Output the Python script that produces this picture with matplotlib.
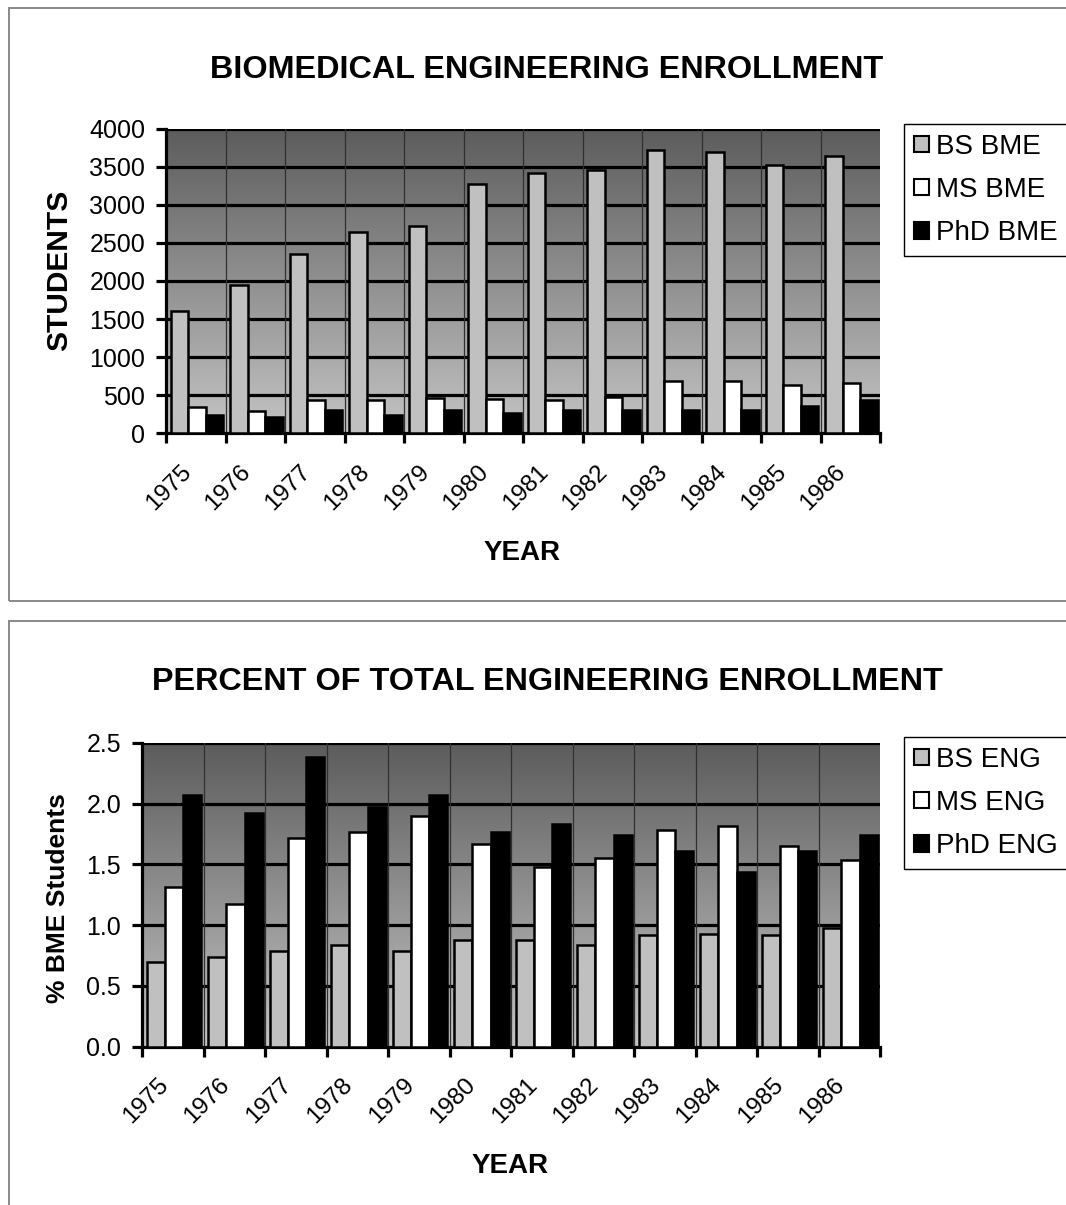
import numpy as np
import matplotlib
matplotlib.use("Agg")
import matplotlib.pyplot as plt
import matplotlib.transforms as mtransforms
from matplotlib.colors import LinearSegmentedColormap
from matplotlib.patches import Rectangle, Patch

plt.rcParams['font.family'] = ['Liberation Sans', 'DejaVu Sans']

years = ['1975', '1976', '1977', '1978', '1979', '1980',
         '1981', '1982', '1983', '1984', '1985', '1986']

# enrollment (students)
bs_bme = [1600, 1950, 2350, 2650, 2730, 3270, 3420, 3460, 3730, 3700, 3530, 3640]
ms_bme = [340, 285, 440, 430, 460, 450, 430, 475, 680, 680, 630, 660]
phd_bme = [240, 210, 300, 240, 300, 265, 300, 300, 300, 300, 360, 430]

# percent of total engineering enrollment
bs_eng = [0.70, 0.74, 0.79, 0.84, 0.79, 0.88, 0.88, 0.84, 0.915, 0.93, 0.915, 0.975]
ms_eng = [1.31, 1.17, 1.72, 1.77, 1.90, 1.67, 1.48, 1.55, 1.78, 1.82, 1.65, 1.54]
phd_eng = [2.075, 1.92, 2.385, 1.97, 2.075, 1.77, 1.835, 1.74, 1.61, 1.44, 1.61, 1.74]

W, H = 1066, 1205
fig = plt.figure(figsize=(W/100, H/100), dpi=100)

def px_axes(x0, y0, x1, y1):
    return fig.add_axes([x0/W, 1-y1/H, (x1-x0)/W, (y1-y0)/H])

# panel frames
for (y0, y1) in [(7.5, 600.5), (620.5, 1215)]:
    fig.patches.append(Rectangle((9/W, 1-y1/H), (1080-9)/W, (y1-y0)/H,
                                 transform=fig.transFigure, fill=False,
                                 edgecolor='#808080', lw=1.3))

cmap = LinearSegmentedColormap.from_list('bg', ['#5c5c5c', '#c4c4c4'])
fills = ['#c0c0c0', 'white', 'black']
shift = mtransforms.ScaledTranslation(-12/100, 0, fig.dpi_scale_trans)

def draw(ax, series, ymax, ystep, yfmt, ylabel, ylab_size, ylab_xy, xlab_xy,
         title, names, title_y, leg_y):
    n = len(years)
    ax.imshow(np.linspace(0, 1, 256).reshape(-1, 1), cmap=cmap, aspect='auto',
              extent=[0, n, 0, ymax], zorder=0, origin='upper')
    bw = 0.295
    x = np.arange(n) + 0.52
    for k, vals in enumerate(series):
        ax.bar(x + (k-1)*bw, vals, bw, color=fills[k], edgecolor='black',
               lw=1.8, zorder=3, label=names[k])
    ax.set_xlim(0, n)
    ax.set_ylim(0, ymax)
    yt = np.arange(0, ymax + ystep/2, ystep)
    ax.set_yticks(yt)
    ax.set_yticklabels([yfmt.format(v) for v in yt], fontsize=18)
    for v in yt[1:]:
        ax.axhline(v, color='black', lw=2.3, zorder=1)
    for b in range(1, n):
        ax.axvline(b, color='#303030', lw=0.9, zorder=1)
    ax.set_xticks(np.arange(n+1))
    ax.set_xticklabels([])
    ax.set_xticks(np.arange(n) + 0.5, minor=True)
    ax.set_xticklabels(years, minor=True, rotation=45, ha='right', va='top',
                       fontsize=17.5)
    for lab in ax.get_xticklabels(minor=True):
        lab.set_transform(lab.get_transform() + shift)
    ax.tick_params(axis='x', which='minor', length=0, pad=20)
    ax.tick_params(axis='both', which='major', length=7, width=2.3)
    ax.tick_params(axis='y', pad=8)
    for s in ['top', 'right']:
        ax.spines[s].set_visible(False)
    for s in ['left', 'bottom']:
        ax.spines[s].set_linewidth(2.3)
    ax.set_ylabel(ylabel, fontsize=ylab_size, fontweight='bold')
    ax.yaxis.set_label_coords(*ylab_xy)
    ax.set_xlabel('YEAR', fontsize=20, fontweight='bold')
    ax.xaxis.set_label_coords(*xlab_xy)
    fig.text(547/W, 1-title_y/H, title, fontsize=23.3, fontweight='bold',
             ha='center', va='center')
    handles = [Patch(facecolor=fills[k], edgecolor='black', lw=1.5, label=names[k])
               for k in range(3)]
    fig.legend(handles=handles, loc='upper left', mode='expand',
               bbox_to_anchor=(904/W, 1-(leg_y+131)/H, (1075-904)/W, 131/H),
               frameon=True, fancybox=False, edgecolor='black', fontsize=20,
               handlelength=0.55, handleheight=0.55, handletextpad=0.25,
               labelspacing=0.62, borderpad=0.35, borderaxespad=0, framealpha=1)

ax1 = px_axes(166, 129, 880, 433)
draw(ax1, [bs_bme, ms_bme, phd_bme], 4000, 500, '{:.0f}', 'STUDENTS', 21.5,
     (-0.130, 0.536), (0.4986, -0.352),
     'BIOMEDICAL ENGINEERING ENROLLMENT', ['BS BME', 'MS BME', 'PhD BME'], 70, 124)

ax2 = px_axes(142, 743, 880, 1046.5)
draw(ax2, [bs_eng, ms_eng, phd_eng], 2.5, 0.5, '{:.1f}', '% BME Students', 19,
     (-0.0976, 0.489), (0.4986, -0.350),
     'PERCENT OF TOTAL ENGINEERING ENROLLMENT', ['BS ENG', 'MS ENG', 'PhD ENG'], 682, 737)

fig.savefig('out.png', dpi=100)
